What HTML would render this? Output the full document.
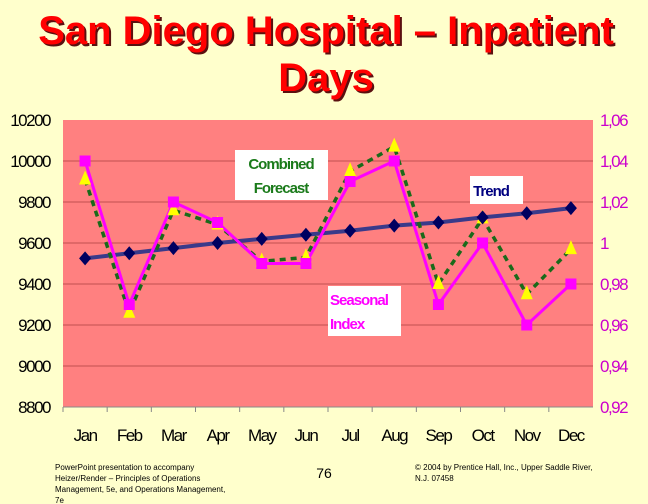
<!DOCTYPE html>
<html><head><meta charset="utf-8"><style>
body{margin:0;background:#ffffcc;}
svg{display:block;font-family:"Liberation Sans",Arial,sans-serif;}
</style></head><body>
<svg width="648" height="504" viewBox="0 0 648 504">
<rect width="648" height="504" fill="#ffffcc"/>
<g font-size="40" font-weight="bold" text-anchor="middle">
<text x="328" y="46" fill="#5a1010">San Diego Hospital – Inpatient</text>
<text x="328" y="93" fill="#5a1010">Days</text>
<text x="326" y="44" fill="#ff0000">San Diego Hospital – Inpatient</text>
<text x="326" y="91" fill="#ff0000">Days</text>
</g>
<rect x="63" y="120" width="530" height="287" fill="#ff8080"/>
<g id="grid"></g>
<g id="marks"></g>
<g>
<rect x="235" y="150" width="93" height="50" fill="#fff"/>
<text x="281" y="169" text-anchor="middle" font-size="15" font-weight="bold" fill="#1a7a1a" letter-spacing="-1">Combined</text>
<text x="281" y="193" text-anchor="middle" font-size="15" font-weight="bold" fill="#1a7a1a" letter-spacing="-1">Forecast</text>
</g>
<g>
<rect x="470" y="176" width="53" height="28" fill="#fff"/>
<text x="491" y="196" text-anchor="middle" font-size="15" font-weight="bold" fill="#000080" letter-spacing="-1">Trend</text>
</g>
<g>
<rect x="328" y="286" width="73" height="50" fill="#fff"/>
<text x="330" y="305" font-size="15" font-weight="bold" fill="#ff00ff" letter-spacing="-1">Seasonal</text>
<text x="330" y="329" font-size="15" font-weight="bold" fill="#ff00ff" letter-spacing="-1">Index</text>
</g>
<g font-size="8" fill="#000">
<text x="55" y="470">PowerPoint presentation to accompany</text>
<text x="55" y="481">Heizer/Render – Principles of Operations</text>
<text x="55" y="492">Management, 5e, and Operations Management,</text>
<text x="55" y="503">7e</text>
<text x="324" y="478" font-size="14" text-anchor="middle">76</text>
<text x="415" y="470">© 2004 by Prentice Hall, Inc., Upper Saddle River,</text>
<text x="415" y="481">N.J. 07458</text>
</g>
</svg>
<script>
const months=["Jan","Feb","Mar","Apr","May","Jun","Jul","Aug","Sep","Oct","Nov","Dec"];
const trend=[9525,9550,9575,9600,9620,9640,9660,9685,9700,9725,9745,9770];
const seasonal=[1.04,0.97,1.02,1.01,0.99,0.99,1.03,1.04,0.97,1.00,0.96,0.98];
const forecast=[9910,9260,9760,9690,9510,9530,9950,10070,9400,9720,9350,9570];
const leftTicks=[8800,9000,9200,9400,9600,9800,10000,10200];
const rightTicks=["0,92","0,94","0,96","0,98","1","1,02","1,04","1,06"];
const NS="http://www.w3.org/2000/svg";
const X0=63,X1=593,Y0=407,Y1=120;
const xs=i=>X0+(i+0.5)*(X1-X0)/months.length;
const yl=v=>Y0-(v-8800)/(10200-8800)*(Y0-Y1);
const yr=v=>Y0-(v-0.92)/(1.06-0.92)*(Y0-Y1);
function mk(t,a,p){const e=document.createElementNS(NS,t);for(const k in a)e.setAttribute(k,a[k]);p.appendChild(e);return e;}
const grid=document.getElementById('grid'),marks=document.getElementById('marks');
leftTicks.forEach((v,i)=>{
 const y=yl(v);
 if(i>0&&i<leftTicks.length-1){const g=mk('line',{x1:X0,x2:X1,y1:y,y2:y,stroke:'#c05050','stroke-width':1},grid);
 
 }
 const t=mk('text',{x:50,y:y+6,'text-anchor':'end','font-size':17,fill:'#000','letter-spacing':'-1.5'},grid);t.textContent=v;
 
 
 const r=mk('text',{x:600,y:y+6,'font-size':17,fill:'#cc00cc','letter-spacing':'-1.5'},grid);r.textContent=rightTicks[i];
 
 
});
mk('line',{x1:X0,x2:X1,y1:Y0,y2:Y0,stroke:'#888'},grid);
months.forEach((m,i)=>{
 mk('line',{x1:X0+i*(X1-X0)/12,x2:X0+i*(X1-X0)/12,y1:Y0,y2:Y0+5,stroke:'#888'},grid);
 const t=mk('text',{x:xs(i),y:441,'text-anchor':'middle','font-size':17,fill:'#000','letter-spacing':'-1.5'},grid);t.textContent=m;
 
 
});
const tl=mk('polyline',{points:trend.map((v,i)=>xs(i)+','+yl(v)).join(' '),fill:'none',stroke:'#3a3a8a','stroke-width':4},marks);


const fl=mk('polyline',{points:forecast.map((v,i)=>xs(i)+','+yl(v)).join(' '),fill:'none',stroke:'#1a6a1a','stroke-width':3.5,'stroke-dasharray':'6,5'},marks);


const sl=mk('polyline',{points:seasonal.map((v,i)=>xs(i)+','+yr(v)).join(' '),fill:'none',stroke:'#ff00ff','stroke-width':3},marks);


forecast.forEach((v,i)=>{const x=xs(i),y=yl(v);
 const p=mk('polygon',{points:`${x},${y-9} ${x-6},${y+5} ${x+6},${y+5}`,fill:'#ffff00'},marks);
 
 });
trend.forEach((v,i)=>{const x=xs(i),y=yl(v);
 const p=mk('polygon',{points:`${x},${y-7} ${x+6},${y} ${x},${y+7} ${x-6},${y}`,fill:'#000060'},marks);
 
 });
seasonal.forEach((v,i)=>{const x=xs(i),y=yr(v);
 const p=mk('rect',{x:x-5.5,y:y-5.5,width:11,height:11,fill:'#ff00ff'},marks);
 
 });
</script>
</body></html>
